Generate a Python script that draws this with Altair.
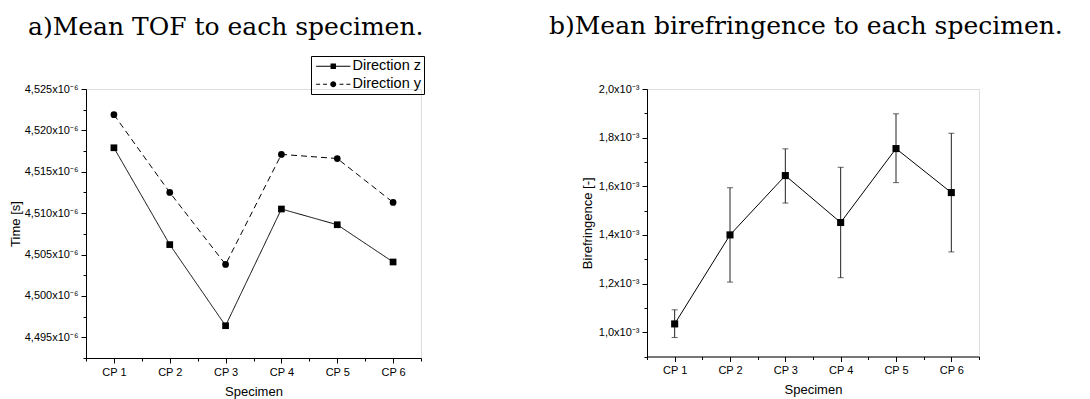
import json
import altair as alt
import pandas as pd

# ---------------- data ----------------
specimens = ["CP 1", "CP 2", "CP 3", "CP 4", "CP 5", "CP 6"]
series = ["Direction z", "Direction y"]
# mean time of flight, in units of 1e-6 s
tof_z = [4.5179, 4.5062, 4.4964, 4.5105, 4.5086, 4.5041]
tof_y = [4.5219, 4.5125, 4.5038, 4.5171, 4.5166, 4.5113]
# mean birefringence and error bar ends, in units of 1e-3
biref = [1.034, 1.400, 1.644, 1.451, 1.755, 1.574]
biref_lo = [0.978, 1.206, 1.531, 1.224, 1.615, 1.330]
biref_hi = [1.092, 1.594, 1.754, 1.678, 1.898, 1.818]

# axis tick values
tof_ticks = [4.495, 4.500, 4.505, 4.510, 4.515, 4.520, 4.525]
tof_minor = [4.4925, 4.4975, 4.5025, 4.5075, 4.5125, 4.5175, 4.5225]
biref_ticks = [1.0, 1.2, 1.4, 1.6, 1.8, 2.0]
biref_minor = [0.9, 1.1, 1.3, 1.5, 1.7, 1.9]
pos_ticks = [1, 2, 3, 4, 5, 6]
pos_minor = [0.5, 1.5, 2.5, 3.5, 4.5, 5.5, 6.5]

# ---------------- tables ----------------
rows = []
for name, vals in zip(series, [tof_z, tof_y]):
    for i, (sp, v) in enumerate(zip(specimens, vals)):
        rows.append({"pos": i + 1, "specimen": sp, "series": name, "time": v})
tof_df = pd.DataFrame(rows)

bi_df = pd.DataFrame({
    "pos": [i + 1 for i in range(len(specimens))],
    "specimen": specimens,
    "b": biref,
    "lo": biref_lo,
    "hi": biref_hi,
})

SANS = "Liberation Sans"
SERIF = "DejaVu Serif"
x_label_expr = json.dumps(specimens) + "[round(datum.value) - 1]"


def major_axis(orient, values, label_expr, title, title_pad):
    return alt.Axis(
        orient=orient, values=values, labelExpr=label_expr, title=title,
        grid=False, tickSize=5, tickColor="black", tickWidth=1,
        domainColor="black", domainWidth=1,
        labelFont=SANS, labelFontSize=11, labelColor="black",
        labelPadding=3, labelFlush=False, labelOverlap=False,
        titleFont=SANS, titleFontSize=13, titleFontWeight="normal",
        titleColor="black", titlePadding=title_pad,
    )


def minor_axis(orient, values):
    return alt.Axis(
        orient=orient, values=values, labels=False, domain=False, grid=False,
        tickSize=3, tickColor="black", tickWidth=1, title=None,
    )


title_style = dict(font=SERIF, fontSize=25, fontWeight="normal", color="black",
                   anchor="start", frame="group", baseline="alphabetic")

# ---------------- panel a ----------------
x_a = alt.Scale(domain=[0.5, 6.5], nice=False, zero=False)
y_a = alt.Scale(domain=[4.4925, 4.525], nice=False, zero=False)
tof_label = "replace(format(datum.value, '.3f'), '.', ',') + 'x10⁻⁶'"

base_a = alt.Chart(tof_df)
line_a = base_a.mark_line(color="black", strokeWidth=1).encode(
    x=alt.X("pos:Q", scale=x_a,
            axis=major_axis("bottom", pos_ticks, x_label_expr, "Specimen", 8)),
    y=alt.Y("time:Q", scale=y_a,
            axis=major_axis("left", tof_ticks, tof_label, "Time [s]", 2)),
    strokeDash=alt.StrokeDash("series:N", scale=alt.Scale(domain=series, range=[[1, 0], [6, 4]]),
                              legend=None),
)
pts_a = base_a.mark_point(filled=True, color="black", size=45, opacity=1).encode(
    x=alt.X("pos:Q", axis=minor_axis("bottom", pos_minor)),
    y=alt.Y("time:Q", axis=minor_axis("left", tof_minor)),
    shape=alt.Shape("series:N", scale=alt.Scale(domain=series, range=["square", "circle"]),
                    legend=None),
)
# legend glyphs (line + marker) as filled custom symbol paths
path_z = ("M-5.7,-0.17H5.7V0.17H-5.7Z"
          "M-0.9,-0.9H0.9V0.9H-0.9Z")
path_y = ("M-5.7,-0.17H-4.4V0.17H-5.7Z"
          "M-3.4,-0.17H-2.1V0.17H-3.4Z"
          "M2.1,-0.17H3.4V0.17H2.1Z"
          "M4.4,-0.17H5.7V0.17H4.4Z"
          "M-1,0A1,1,0,1,1,1,0A1,1,0,1,1,-1,0Z")
leg_a = base_a.mark_point(filled=True, color="black", opacity=0).encode(
    x=alt.X("pos:Q", axis=None),
    y=alt.Y("time:Q", axis=None),
    shape=alt.Shape("series:N", scale=alt.Scale(domain=series, range=[path_z, path_y]),
                    legend=alt.Legend(
                        orient="none", legendX=225, legendY=-33, title=None,
                        symbolSize=36, symbolStrokeWidth=0,
                        symbolFillColor="black", symbolOpacity=1,
                        symbolOffset=12, labelOffset=12,
                        labelFont=SANS, labelFontSize=14.5, labelColor="black",
                        strokeColor="black", padding=3, rowPadding=3,
                    )),
)
panel_a = alt.layer(line_a, pts_a, leg_a).resolve_scale(
    shape="independent"
).resolve_axis(x="independent", y="independent").properties(
    width=335, height=269,
    title=alt.Title("a)Mean TOF to each specimen.", dx=-58, offset=-4.6, **title_style),
)

# ---------------- panel b ----------------
x_b = alt.Scale(domain=[0.5, 6.5], nice=False, zero=False)
y_b = alt.Scale(domain=[0.9, 2.0], nice=False, zero=False)
bi_label = "replace(format(datum.value, '.1f'), '.', ',') + 'x10⁻³'"

base_b = alt.Chart(bi_df)
err_b = base_b.mark_rule(color="#222222", strokeWidth=1).encode(
    x=alt.X("pos:Q", scale=x_b, axis=None),
    y=alt.Y("lo:Q", scale=y_b, axis=None),
    y2="hi:Q",
)
cap_lo = base_b.mark_tick(color="#222222", orient="horizontal", size=6, thickness=1).encode(
    x=alt.X("pos:Q", axis=None), y=alt.Y("lo:Q", axis=None))
cap_hi = base_b.mark_tick(color="#222222", orient="horizontal", size=6, thickness=1).encode(
    x=alt.X("pos:Q", axis=None), y=alt.Y("hi:Q", axis=None))
line_b = base_b.mark_line(color="black", strokeWidth=1).encode(
    x=alt.X("pos:Q", scale=x_b,
            axis=major_axis("bottom", pos_ticks, x_label_expr, "Specimen", 8)),
    y=alt.Y("b:Q", scale=y_b,
            axis=major_axis("left", biref_ticks, bi_label, "Birefringence [-]", 4)),
)
pts_b = base_b.mark_point(filled=True, color="black", size=50, opacity=1, shape="square").encode(
    x=alt.X("pos:Q", axis=minor_axis("bottom", pos_minor)),
    y=alt.Y("b:Q", axis=minor_axis("left", biref_minor)),
)
panel_b = alt.layer(err_b, cap_lo, cap_hi, line_b, pts_b).resolve_axis(
    x="independent", y="independent"
).properties(
    width=332, height=267.5,
    title=alt.Title("b)Mean birefringence to each specimen.", dx=-98, offset=24.4, **title_style),
)

chart = alt.hconcat(panel_a, panel_b, spacing=123).properties(
    padding={"left": 0, "top": 5, "right": 0, "bottom": 0},
).configure_view(strokeWidth=0).configure(background="white")

chart.save("out.html", embed_options={"renderer": "svg", "actions": False})
